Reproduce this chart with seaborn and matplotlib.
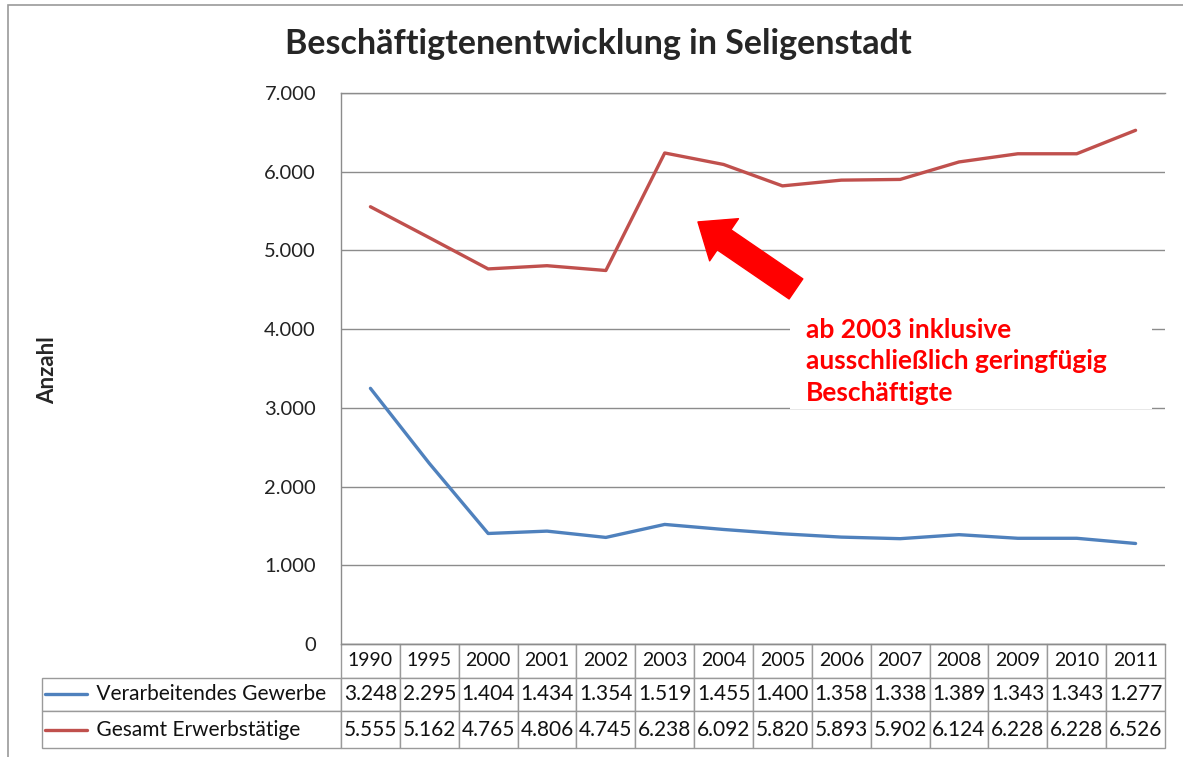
import numpy as np
import pandas as pd
import matplotlib
matplotlib.use("Agg")
import matplotlib.pyplot as plt
import seaborn as sns
from matplotlib.lines import Line2D
from matplotlib.patches import Rectangle

# Daten
jahre = ["1990", "1995", "2000", "2001", "2002", "2003", "2004", "2005",
         "2006", "2007", "2008", "2009", "2010", "2011"]
verarbeitend = [3248, 2295, 1404, 1434, 1354, 1519, 1455, 1400, 1358, 1338, 1389, 1343, 1343, 1277]
gesamt = [5555, 5162, 4765, 4806, 4745, 6238, 6092, 5820, 5893, 5902, 6124, 6228, 6228, 6526]
serien = ["Verarbeitendes Gewerbe", "Gesamt Erwerbstätige"]
farben = ["#4F81BD", "#C0504D"]

df = pd.DataFrame({
    "pos": list(range(len(jahre))) * 2,
    "wert": verarbeitend + gesamt,
    "serie": [serien[0]] * len(jahre) + [serien[1]] * len(jahre),
})

sns.set_style("white")
plt.rcParams["font.family"] = ["Lato", "DejaVu Sans"]

W, H = 1183, 757
fig = plt.figure(figsize=(W / 100, H / 100), dpi=100)
ax = fig.add_axes([341 / W, 113 / H, 824 / W, 551 / H])

sns.lineplot(data=df, x="pos", y="wert", hue="serie", palette=farben,
             linewidth=2.4, legend=False, ax=ax)

ax.set_xlim(-0.5, len(jahre) - 0.5)
ax.set_ylim(0, 7000)
ax.set_yticks(np.arange(0, 7001, 1000))
ax.set_yticklabels([f"{v:,}".replace(",", ".") for v in range(0, 7001, 1000)], fontsize=14.5, color="#222222")
ax.set_xticks([])
ax.set_xlabel("")
ax.set_ylabel("")
ax.tick_params(axis="y", length=0, pad=18)
ax.grid(axis="y", color="#8c8c8c", linewidth=1.0)
for s in ax.spines.values():
    s.set_color("#8c8c8c")
    s.set_linewidth(1.0)
ax.spines["right"].set_visible(False)

fig.text(48 / W, 1 - 370 / H, "Anzahl", rotation=90, fontsize=16, fontweight="bold",
         ha="center", va="center")
fig.text(598 / W, 1 - 44 / H, "Beschäftigtenentwicklung in Seligenstadt",
         fontsize=24.5, fontweight="bold", ha="center", va="center")

# Hinweis mit Pfeil
ax.annotate("", xy=(5.565, 5362), xytext=(7.23, 4511),
            arrowprops=dict(arrowstyle="simple,head_length=1.3,head_width=2.1,tail_width=1.0",
                            color="#ff0000", shrinkA=0, shrinkB=0, mutation_scale=17.5))
ax.add_patch(Rectangle((7.13, 2990), 6.15, 1110, facecolor="white", edgecolor="none", zorder=4))
ax.text(7.4, 3590, "ab 2003 inklusive\nausschließlich geringfügig\nBeschäftigte",
        color="#ff0000", fontsize=19, fontweight="bold", va="center", ha="left",
        linespacing=1.38, zorder=5)

# Datentabelle
zellen = [[f"{v:,}".replace(",", ".") for v in werte] for werte in [verarbeitend, gesamt]]
tab = ax.table(cellText=zellen, colLabels=jahre, cellLoc="center",
               bbox=[0, (9 - 113) / 551, 1, 104 / 551])
tab.auto_set_font_size(False)
hoehen = [34, 33, 37]
for i, name in enumerate(serien):
    tab.add_cell(i + 1, -1, width=299 / 824, height=hoehen[i + 1] / 551,
                 text="         " + name, loc="left")
for (r, c), cell in tab.get_celld().items():
    cell.set_height(hoehen[r] / 551)
    cell.set_edgecolor("#9a9a9a")
    cell.set_linewidth(1.0)
    cell.set_clip_on(False)
    cell.PAD = 0.02
    cell.get_text().set_fontsize(14 if r == 0 else 15)
    cell.get_text().set_color("#111111")
    cell.get_text().set_clip_on(False)
tab.set_clip_on(False)

for i, farbe in enumerate(farben):
    y = 1 - (694 if i == 0 else 730) / H
    fig.add_artist(Line2D([45 / W, 87 / W], [y, y], color=farbe, linewidth=2.4,
                          transform=fig.transFigure))

fig.add_artist(Rectangle((8 / W, -0.05), 1.2, 1 - 5 / H + 0.05, transform=fig.transFigure,
                         fill=False, edgecolor="#9a9a9a", linewidth=1.2))

fig.savefig("out.png", dpi=100)
